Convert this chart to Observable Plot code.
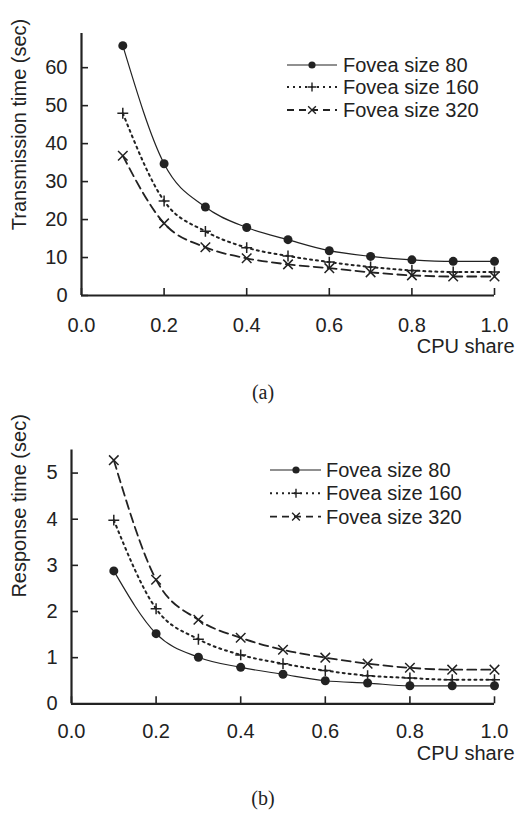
<!DOCTYPE html>
<html><head><meta charset="utf-8">
<script src="https://cdn.jsdelivr.net/npm/d3@7"></script>
<script src="https://cdn.jsdelivr.net/npm/@observablehq/plot@0.6"></script>
<style>
body{margin:0;background:#fff;}
#wrap{position:relative;width:517px;height:814px;color:#222;}
.panel{position:absolute;left:0;}
#overlay{position:absolute;left:0;top:0;pointer-events:none;}
</style></head><body><div id="wrap"><div id="pa" class="panel" style="top:0"></div><div id="pb" class="panel" style="top:400px"></div><svg id="overlay" width="517" height="814"></svg></div>
<script>
// ---- data ----
const cpuShare = [0.1, 0.2, 0.3, 0.4, 0.5, 0.6, 0.7, 0.8, 0.9, 1.0];
const seriesNames = ["Fovea size 80", "Fovea size 160", "Fovea size 320"];
// (a) Transmission time (sec)
const transFovea80  = [65.8, 34.7, 23.3, 17.9, 14.7, 11.8, 10.3, 9.4, 9.0, 9.0];
const transFovea160 = [48.0, 24.9, 16.9, 12.6, 10.4, 8.8, 7.5, 6.6, 6.2, 6.2];
const transFovea320 = [36.8, 19.0, 12.7, 9.8, 8.2, 7.2, 6.1, 5.3, 5.0, 5.0];
// (b) Response time (sec)
const respFovea80  = [2.88, 1.52, 1.01, 0.79, 0.64, 0.50, 0.45, 0.39, 0.39, 0.39];
const respFovea160 = [3.98, 2.06, 1.40, 1.06, 0.87, 0.72, 0.61, 0.56, 0.52, 0.52];
const respFovea320 = [5.28, 2.69, 1.82, 1.43, 1.17, 1.00, 0.87, 0.78, 0.74, 0.74];
const xTicks = [0.0, 0.2, 0.4, 0.6, 0.8, 1.0];
const yTicksA = [0, 10, 20, 30, 40, 50, 60];
const yTicksB = [0, 1, 2, 3, 4, 5];
const xLabel = "CPU share";
const yLabelA = "Transmission time (sec)";
const yLabelB = "Response time (sec)";
const captions = ["(a)", "(b)"];

// ---- styles ----
const INK = "#222";
const styles = [
  {symbol: "circle", fill: INK, stroke: "none", r: 4.5, lw: 1.2, dash: null, ldash: null, lr: 3.6},
  {symbol: "plus", fill: "none", stroke: INK, r: 3.6, lw: 2, dash: "2,4", ldash: "2,4", lr: 3},
  {symbol: "times", fill: "none", stroke: INK, r: 4.4, lw: 1.8, dash: "9,5", ldash: "7,5", lr: 3.6}
];

function rows(arrs) {
  const out = [];
  arrs.forEach((arr, si) => arr.forEach((v, i) => out.push({x: cpuShare[i], y: v, s: seriesNames[si]})));
  return out;
}

function chart({data, yDomain, yTicks, yLabel, marginLeft, marginTop, marginBottom, height, tickPad, titleDy, cpuDy}) {
  const marks = [];
  marks.push(Plot.axisX(xTicks, {tickFormat: d3.format(".1f"), tickSize: -7, tickPadding: tickPad, strokeWidth: 1.6, label: null, fontSize: 20}));
  marks.push(Plot.axisY(yTicks, {tickSize: -7, tickPadding: 21, strokeWidth: 1.6, label: null, fontSize: 20}));
  marks.push(Plot.ruleX([0], {stroke: INK, strokeWidth: 2.2}));
  marks.push(Plot.ruleY([0], {stroke: INK, strokeWidth: 2.2}));
  seriesNames.forEach((name, si) => {
    const st = styles[si];
    const d = data.filter(r => r.s === name);
    marks.push(Plot.line(d, {x: "x", y: "y", curve: "monotone-x", stroke: INK, strokeWidth: st.lw, strokeDasharray: st.dash}));
    marks.push(Plot.dot(d, {x: "x", y: "y", symbol: () => st.symbol, r: st.r, fill: st.fill, stroke: st.stroke, strokeWidth: 1.5}));
  });
  marks.push(Plot.text([xLabel], {text: d => d, frameAnchor: "bottom-right", textAnchor: "end", lineAnchor: "bottom", dx: 20, dy: cpuDy, fontSize: 20, fill: INK}));
  marks.push(Plot.text([yLabel], {text: d => d, frameAnchor: "left", rotate: -90, textAnchor: "middle", lineAnchor: "bottom", dx: 25 - marginLeft, dy: titleDy, fontSize: 20, fill: INK}));
  return Plot.plot({
    width: 517, height,
    marginLeft, marginRight: 23, marginTop, marginBottom,
    x: {domain: [0, 1]},
    y: {domain: yDomain},
    style: {fontFamily: "'Liberation Sans', Arial, sans-serif", fontSize: "20px", color: INK, background: "transparent"},
    marks
  });
}

document.getElementById("pa").appendChild(chart({
  data: rows([transFovea80, transFovea160, transFovea320]),
  yDomain: [0, 69], yTicks: yTicksA, yLabel: yLabelA,
  marginLeft: 81, marginTop: 33, marginBottom: 65, height: 360,
  tickPad: 29, titleDy: -40, cpuDy: 57
}));
document.getElementById("pb").appendChild(chart({
  data: rows([respFovea80, respFovea160, respFovea320]),
  yDomain: [0, 5.5], yTicks: yTicksB, yLabel: yLabelB,
  marginLeft: 71, marginTop: 49.5, marginBottom: 76.7, height: 380,
  tickPad: 27, titleDy: -71, cpuDy: 56
}));

// ---- legends & captions ----
const svg = d3.select("#overlay");
const symMap = {circle: d3.symbolCircle, plus: d3.symbolPlus, times: d3.symbolTimes};
function legend(x0, x1, xm, xt, ys) {
  seriesNames.forEach((name, si) => {
    const st = styles[si];
    const y = ys[si];
    svg.append("line").attr("x1", x0).attr("x2", x1).attr("y1", y).attr("y2", y)
      .attr("stroke", INK).attr("stroke-width", st.lw).attr("stroke-dasharray", st.ldash);
    svg.append("path").attr("d", d3.symbol(symMap[st.symbol], Math.PI * st.lr * st.lr)())
      .attr("transform", `translate(${xm},${y})`)
      .attr("fill", st.fill).attr("stroke", st.stroke).attr("stroke-width", 1.4);
    svg.append("text").attr("x", xt).attr("y", y + 7).text(name)
      .attr("font-family", "'Liberation Sans', Arial, sans-serif").attr("font-size", 20).attr("fill", INK);
  });
}
legend(287, 337, 312, 343, [65, 87, 110]);
legend(270, 321, 296, 326, [470, 493.3, 516.7]);
[[399, captions[0]], [805, captions[1]]].forEach(([y, t]) => {
  svg.append("text").attr("x", 263).attr("y", y).attr("text-anchor", "middle").text(t)
    .attr("font-family", "'Liberation Serif', 'Times New Roman', serif").attr("font-size", 20).attr("fill", INK);
});
</script></body></html>
